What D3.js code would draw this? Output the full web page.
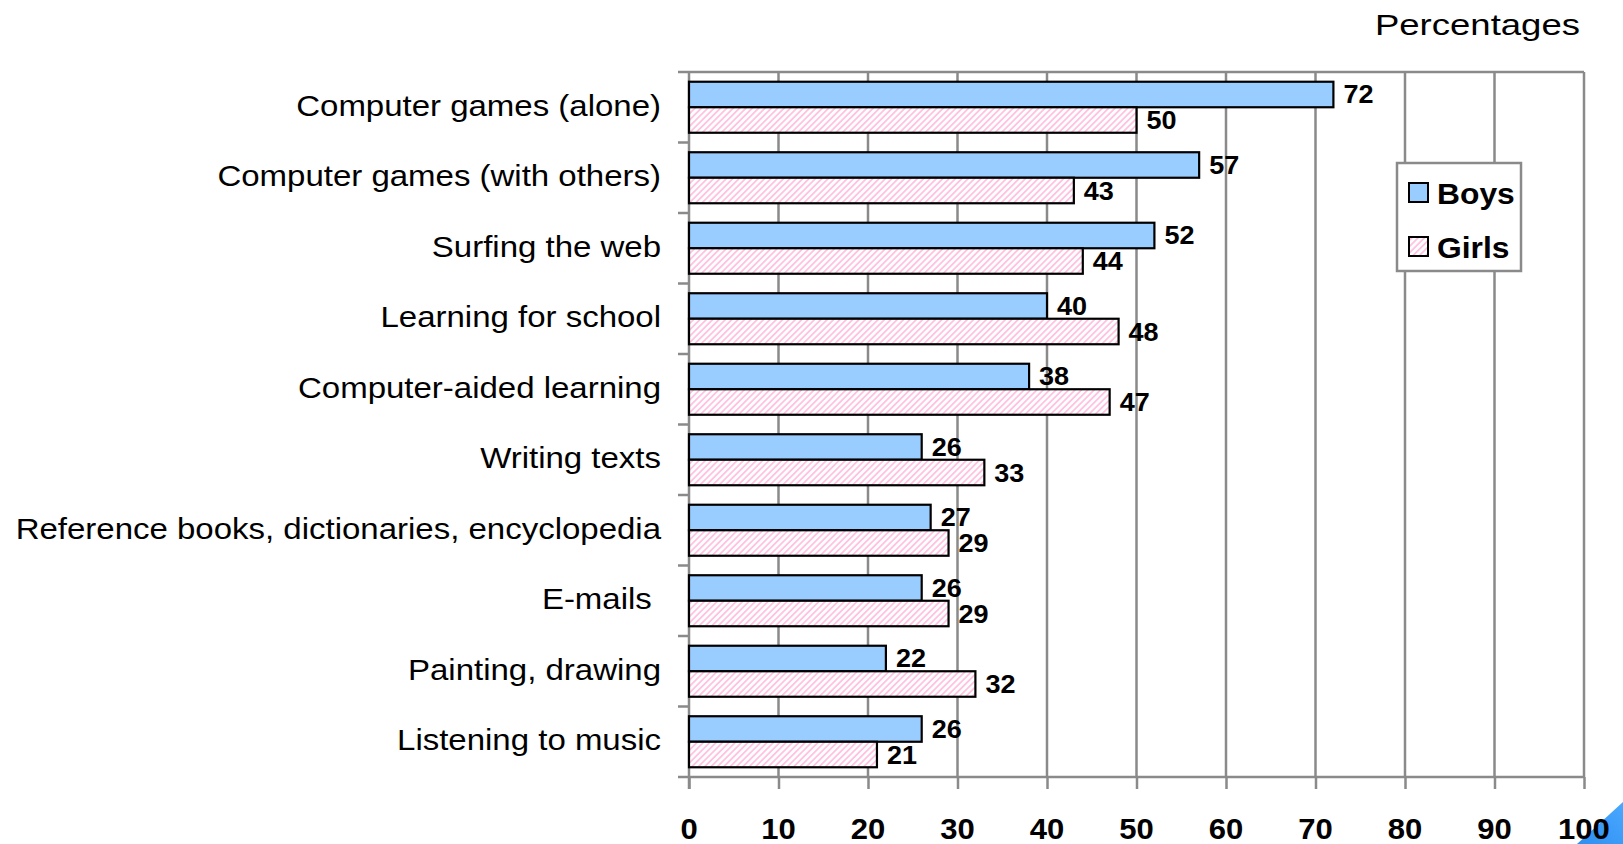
<!DOCTYPE html>
<html>
<head>
<meta charset="utf-8">
<script src="https://cdn.jsdelivr.net/npm/d3@7/dist/d3.min.js"></script>
<style>
  html, body { margin: 0; padding: 0; background: #fff; }
  svg { display: block; }
  text { font-family: "Liberation Sans", Arial, sans-serif; fill: #000; }
</style>
</head>
<body>
<svg id="chart" width="1623" height="844"></svg>
<script>
// Activities, top to bottom
const categories = [
  "Computer games (alone)",
  "Computer games (with others)",
  "Surfing the web",
  "Learning for school",
  "Computer-aided learning",
  "Writing texts",
  "Reference books, dictionaries, encyclopedia",
  "E-mails ",
  "Painting, drawing",
  "Listening to music"
];
const seriesNames = ["Boys", "Girls"];
const boys  = [72, 57, 52, 40, 38, 26, 27, 26, 22, 26];
const girls = [50, 43, 44, 48, 47, 33, 29, 29, 32, 21];
const xTicks = [0, 10, 20, 30, 40, 50, 60, 70, 80, 90, 100];
const unitLabel = "Percentages";

const svg = d3.select("#chart");
const grid = "#8a8a8a";
const boyFill = "#99ccff";
const stretch = 1.1;

const plot = { left: 689, right: 1584, top: 72, bottom: 777 };

const x = d3.scaleLinear().domain([0, 100]).range([plot.left, plot.right]);
const yCat = d3.scaleBand().domain(categories).range([plot.top, plot.bottom]).padding(0);
const ySer = d3.scaleBand().domain(seriesNames).range([0, yCat.bandwidth()])
  .paddingInner(0).paddingOuter(0.382);

// light diagonal hatch for the girls' bars
const defs = svg.append("defs");
const pat = defs.append("pattern")
  .attr("id", "hatch").attr("patternUnits", "userSpaceOnUse")
  .attr("width", 4.5).attr("height", 4.5)
  .attr("patternTransform", "rotate(45)");
pat.append("rect").attr("width", 4.5).attr("height", 4.5).attr("fill", "#fff");
pat.append("rect").attr("x", 0).attr("width", 1.8).attr("height", 4.5).attr("fill", "#ffc2e1");

// stretched text helper
function label(g, tx, ty, str, opts) {
  return g.append("text")
    .attr("transform", `translate(${tx},${ty}) scale(${opts.sx || stretch},1)`)
    .attr("text-anchor", opts.anchor || "start")
    .attr("font-size", opts.size)
    .attr("font-weight", opts.weight || "normal")
    .style("white-space", "pre")
    .text(str);
}

// slide corner accent (sits behind the axis labels)
const corner = defs.append("linearGradient").attr("id", "corner")
  .attr("x1", "0").attr("y1", "1").attr("x2", "1").attr("y2", "0");
corner.append("stop").attr("offset", "0").attr("stop-color", "#2f8ff0");
corner.append("stop").attr("offset", "1").attr("stop-color", "#4aa8ff");
svg.append("path")
  .attr("d", "M1577,844L1623,802L1623,844Z")
  .attr("fill", "url(#corner)");

// vertical gridlines
svg.append("g").selectAll("line")
  .data(xTicks.filter(t => t > 0))
  .join("line")
  .attr("x1", d => x(d)).attr("x2", d => x(d))
  .attr("y1", plot.top).attr("y2", plot.bottom)
  .attr("stroke", grid).attr("stroke-width", 2.5);

// top edge of plot area
svg.append("line")
  .attr("x1", plot.left).attr("x2", plot.right)
  .attr("y1", plot.top).attr("y2", plot.top)
  .attr("stroke", grid).attr("stroke-width", 2.5);

// bottom axis
const xAxis = svg.append("g")
  .attr("transform", `translate(0,${plot.bottom})`)
  .call(d3.axisBottom(x).tickValues(xTicks).tickSize(12).tickFormat(""));
xAxis.select(".domain").attr("stroke", grid).attr("stroke-width", 2.5)
  .attr("d", `M${plot.left},0H${plot.right}`);
xAxis.selectAll(".tick line").attr("stroke", grid).attr("stroke-width", 2.5);

xTicks.forEach(t => label(svg, x(t), 839, String(t), { size: 29, weight: "bold", anchor: "middle", sx: 1.07 }));

// left axis with ticks at category boundaries
const yBounds = categories.map(c => yCat(c)).concat([plot.bottom]);
svg.append("line")
  .attr("x1", plot.left).attr("x2", plot.left)
  .attr("y1", plot.top).attr("y2", plot.bottom + 12)
  .attr("stroke", grid).attr("stroke-width", 2.5);
svg.append("g").selectAll("line")
  .data(yBounds)
  .join("line")
  .attr("x1", plot.left - 11).attr("x2", plot.left)
  .attr("y1", d => d).attr("y2", d => d)
  .attr("stroke", grid).attr("stroke-width", 2.5);

// category labels
categories.forEach(c => {
  label(svg, 661, yCat(c) + yCat.bandwidth() / 2 + 8.5, c, { size: 30, anchor: "end", sx: 1.1 });
});

// bars
const rows = categories.map((c, i) => ({ cat: c, Boys: boys[i], Girls: girls[i] }));
const barG = svg.append("g");
seriesNames.forEach(s => {
  barG.selectAll(null)
    .data(rows)
    .join("rect")
    .attr("x", x(0))
    .attr("y", d => yCat(d.cat) + ySer(s))
    .attr("width", d => x(d[s]) - x(0))
    .attr("height", ySer.bandwidth())
    .attr("fill", s === "Boys" ? boyFill : "url(#hatch)")
    .attr("stroke", "#000")
    .attr("stroke-width", 2.2);
});

// value labels
seriesNames.forEach(s => {
  rows.forEach(d => {
    label(svg, x(d[s]) + 10, yCat(d.cat) + ySer(s) + ySer.bandwidth() / 2 + 9,
      String(d[s]), { size: 25, weight: "bold", sx: 1.08 });
  });
});

// legend
const lg = svg.append("g");
lg.append("rect")
  .attr("x", 1397).attr("y", 163).attr("width", 124).attr("height", 108)
  .attr("fill", "#fff").attr("stroke", grid).attr("stroke-width", 2.5);
seriesNames.forEach((s, i) => {
  const yy = 183 + i * 54;
  lg.append("rect")
    .attr("x", 1409).attr("y", yy).attr("width", 19).attr("height", 19)
    .attr("fill", s === "Boys" ? boyFill : "url(#hatch)")
    .attr("stroke", "#000").attr("stroke-width", 2);
  label(lg, 1437, yy + 21, s, { size: 30, weight: "bold", sx: 1.06 });
});

// unit caption
label(svg, 1580, 35, unitLabel, { size: 29, anchor: "end", sx: 1.26 });
</script>
</body>
</html>
